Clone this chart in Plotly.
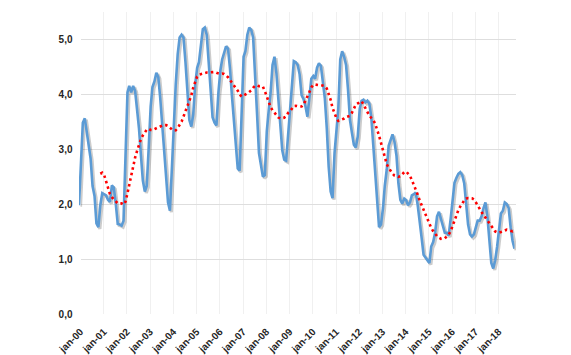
import pandas as pd
import plotly.graph_objects as go

# Monthly values, Jan 2000 - Oct 2018
y2000 = [1.95, 2.7, 3.45, 3.53, 3.3, 3.0, 2.8, 2.3, 2.12, 1.62, 1.55, 1.95]
y2001 = [2.17, 2.15, 2.13, 2.05, 2.01, 2.31, 2.27, 1.98, 1.61, 1.6, 1.58, 1.67]
y2002 = [2.8, 4.0, 4.12, 4.0, 4.12, 4.03, 3.7, 3.35, 2.85, 2.4, 2.2, 2.3]
y2003 = [3.0, 3.75, 4.1, 4.2, 4.36, 4.28, 3.9, 3.45, 2.95, 2.4, 2.0, 1.85]
y2004 = [2.7, 3.5, 4.15, 4.7, 5.0, 5.05, 5.0, 4.55, 3.95, 3.5, 3.38, 3.6]
y2005 = [4.15, 4.45, 4.55, 4.85, 5.15, 5.18, 5.05, 4.55, 3.95, 3.55, 3.45, 3.4]
y2006 = [4.0, 4.4, 4.6, 4.75, 4.84, 4.8, 4.45, 3.95, 3.5, 3.1, 2.62, 2.58]
y2007 = [3.5, 4.65, 4.75, 5.05, 5.18, 5.14, 5.0, 4.4, 3.6, 2.9, 2.65, 2.47]
y2008 = [2.5, 3.3, 3.66, 4.0, 4.5, 4.65, 4.35, 3.95, 3.4, 2.95, 2.78, 2.76]
y2009 = [3.24, 3.7, 4.2, 4.57, 4.55, 4.5, 4.33, 3.95, 3.88, 3.75, 3.56, 3.85]
y2010 = [4.25, 4.3, 4.25, 4.45, 4.53, 4.48, 4.2, 3.9, 3.35, 2.65, 2.2, 2.08]
y2011 = [2.9, 3.35, 3.7, 4.6, 4.75, 4.65, 4.5, 4.05, 3.5, 3.27, 3.05, 3.0]
y2012 = [3.2, 3.7, 3.85, 3.87, 3.82, 3.85, 3.8, 3.55, 3.05, 2.45, 1.9, 1.55]
y2013 = [1.6, 1.9, 2.3, 2.6, 3.03, 3.15, 3.24, 3.1, 2.85, 2.35, 2.05, 1.98]
y2014 = [2.07, 2.04, 1.95, 2.0, 2.13, 2.15, 2.18, 1.95, 1.6, 1.36, 1.05, 1.0]
y2015 = [0.95, 0.9, 1.2, 1.28, 1.45, 1.75, 1.83, 1.7, 1.62, 1.45, 1.45, 1.4]
y2016 = [1.7, 2.1, 2.36, 2.45, 2.52, 2.55, 2.5, 2.35, 2.0, 1.6, 1.42, 1.38]
y2017 = [1.42, 1.55, 1.67, 1.67, 1.75, 1.9, 2.0, 1.74, 1.35, 0.9, 0.8, 0.95]
y2018 = [1.2, 1.5, 1.8, 1.85, 2.0, 1.97, 1.9, 1.55, 1.3, 1.16]

values = (y2000 + y2001 + y2002 + y2003 + y2004 + y2005 + y2006 + y2007 + y2008
          + y2009 + y2010 + y2011 + y2012 + y2013 + y2014 + y2015 + y2016 + y2017 + y2018)
months = pd.date_range("2000-01-01", periods=len(values), freq="MS")
moving_avg = pd.Series(values).rolling(12).mean()

x_tick_labels = ["jan-%02d" % i for i in range(0, 19)]
x_tick_vals = pd.date_range("2000-01-01", periods=19, freq="12MS")
y_tick_vals = [0, 1, 2, 3, 4, 5]
y_tick_labels = ["0,0", "1,0", "2,0", "3,0", "4,0", "5,0"]

BLUE = "#5B9BD5"
TXT = "#262626"
W, H = 571, 355
L, R, T, B = 71, 63, 2, 49
pw, ph = W - L - R, H - T - B
dx, dy = 1.5 / pw, 1.5 / ph

fig = go.Figure()
# soft shadow under the blue line (Excel shadow effect)
fig.add_trace(go.Scatter(x=months, y=values, mode="lines", xaxis="x", yaxis="y",
                         line=dict(color="rgba(0,0,0,0.2)", width=3.2), hoverinfo="skip",
                         showlegend=False))
fig.add_trace(go.Scatter(x=months, y=values, mode="lines", xaxis="x2", yaxis="y2",
                         line=dict(color=BLUE, width=2.6), showlegend=False))
fig.add_trace(go.Scatter(x=months, y=moving_avg, mode="lines", xaxis="x2", yaxis="y2",
                         line=dict(color="#FF0000", width=2.6, dash="2.5px,3.2px"), showlegend=False))

xr = [months[0], months[-1]]
fig.update_layout(
    width=W, height=H,
    margin=dict(l=L, r=R, t=T, b=B),
    paper_bgcolor="white", plot_bgcolor="rgba(0,0,0,0)",
    xaxis=dict(domain=[dx, 1], range=xr, tickvals=x_tick_vals, ticktext=x_tick_labels,
               tickangle=-45, showgrid=True, gridcolor="#f0f0f0", gridwidth=1,
               zeroline=False, showline=False, ticks="", automargin=False,
               ticklabelstandoff=9,
               tickfont=dict(family="Liberation Sans", size=10, color=TXT, weight="bold")),
    yaxis=dict(domain=[0, 1 - dy], range=[0, 5.5], tickvals=y_tick_vals, ticktext=y_tick_labels,
               showgrid=True, gridcolor="#dedede", gridwidth=1, zeroline=False, showline=False,
               ticks="", ticklabelstandoff=7, automargin=False,
               tickfont=dict(family="Liberation Sans", size=10, color=TXT, weight="bold")),
    xaxis2=dict(domain=[0, 1 - dx], range=xr, visible=False, anchor="y2"),
    yaxis2=dict(domain=[dy, 1], range=[0, 5.5], visible=False, anchor="x2"),
)
fig.write_html("out.html")
